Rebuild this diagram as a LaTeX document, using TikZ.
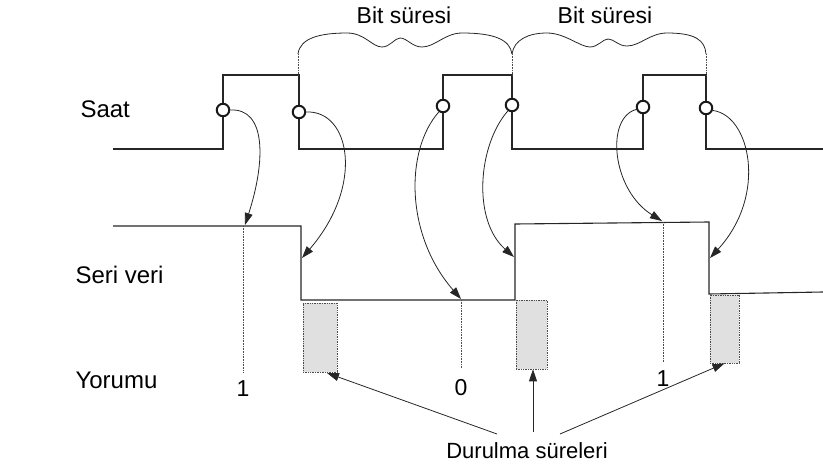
\documentclass[tikz,border=0pt]{standalone}
\usepackage{fontspec}
\setmainfont{Liberation Sans}
\usetikzlibrary{arrows.meta}
\begin{document}
\begin{tikzpicture}[x=1pt,y=-1pt,
  sig/.style={line width=1.1pt, black!85, line join=miter},
  arr/.style={line width=0.8pt, black!85, -{Triangle[length=12pt,width=8pt]}},
  ring/.style={circle, draw=black!90, line width=2pt, minimum size=12.5pt, inner sep=0pt, fill=white},
  lbl/.style={anchor=base west, font=\fontsize{24}{28}\selectfont},
  digit/.style={anchor=base, font=\fontsize{23}{27}\selectfont},
  toptxt/.style={anchor=base, font=\fontsize{23}{27}\selectfont},
  settle/.style={draw=black!70, densely dotted, line width=0.7pt, fill=black!12, inner sep=0pt},
  vguide/.style={densely dotted, line width=0.6pt, black!70},
  bracepath/.style={line width=0.8pt, black!85}
]
\useasboundingbox (0,0) rectangle (823,474);

% clock signal
\draw[sig] (113,149) -- (223,149) -- (223,75) -- (299,75) -- (299,149) -- (443,149) -- (443,75)
  -- (512,75) -- (512,149) -- (643,149) -- (643,75) -- (706,75) -- (706,149) -- (823,149);

% serial data
\draw[sig] (113,226) -- (301,226) -- (301,300) -- (515,300) -- (515,224) -- (709,222)
  -- (709,294) -- (823,292);

% braces
\draw[bracepath] (298,54) .. controls (300,38) and (320,33) .. (347,33)
  .. controls (365,33) and (372,47) .. (382,47)
  .. controls (390,47) and (395,38) .. (400,38)
  .. controls (407,38) and (412,47) .. (422,47)
  .. controls (435,47) and (445,33) .. (462,33)
  .. controls (495,33) and (510,40) .. (512,54);
\draw[bracepath] (512,54) .. controls (514,40) and (528,33) .. (547,33)
  .. controls (565,33) and (580,47) .. (590,47)
  .. controls (598,47) and (603,39) .. (608,39)
  .. controls (614,39) and (618,46) .. (627,46)
  .. controls (640,46) and (650,33) .. (667,33)
  .. controls (695,33) and (705,40) .. (706,54);
\draw[vguide] (298,54) -- (298,75);
\draw[vguide] (512,54) -- (512,75);
\draw[vguide] (706,54) -- (706,75);

\node[toptxt] (bs1) at (404,23) {Bit süresi};
\node[toptxt] (bs2) at (605,23) {Bit süresi};

% guides for sampling instants
\draw[vguide] (243,226) -- (243,372);
\draw[vguide] (461,300) -- (461,368);
\draw[vguide] (663,222) -- (663,362);

% settling boxes
\node[settle, minimum width=34pt, minimum height=69pt] (b1) at (320,337.5) {};
\node[settle, minimum width=31pt, minimum height=69pt] (b2) at (531.5,334.5) {};
\node[settle, minimum width=29pt, minimum height=68pt] (b3) at (724.5,329) {};

% labels
\node[lbl] (saat) at (77,117) {Saat};
\node[lbl] (seri) at (72,283) {Seri veri};
\node[lbl] (yor) at (72,388) {Yorumu};
\node[digit] (n1) at (243,396) {1};
\node[digit] (n2) at (461,395) {0};
\node[digit] (n3) at (663,386) {1};
\node[anchor=base, font=\fontsize{22}{26}\selectfont] (dur) at (527,458) {Durulma süreleri};

% edge markers
\node[ring] (c1) at (223,110) {};
\node[ring] (c2) at (299,112) {};
\node[ring] (c3) at (443,106) {};
\node[ring] (c4) at (512,105) {};
\node[ring] (c5) at (643,107) {};
\node[ring] (c6) at (706,108) {};

% arrow targets
\coordinate (t1) at (245,225);
\coordinate (t2) at (302,258);
\coordinate (t3) at (461,299);
\coordinate (t4) at (514,257);
\coordinate (t5) at (662,221);
\coordinate (t6) at (710,258);

\draw[arr] (c1.east) .. controls (266,108) and (266,160) .. (t1);
\draw[arr] (c2.east) .. controls (350,110) and (365,185) .. (t2);
\draw[arr] (c3.-125) .. controls (405,150) and (405,235) .. (t3);
\draw[arr] (c4.-125) .. controls (478,145) and (472,220) .. (t4);
\draw[arr] (c5.200) .. controls (605,118) and (612,190) .. (t5);
\draw[arr] (c6.-20) .. controls (750,115) and (768,195) .. (t6);

% settling-time arrows
\coordinate (d1) at (497,434);
\coordinate (d2) at (533,432);
\coordinate (d3) at (560,434);
\coordinate (e1) at (327,373);
\draw[arr] (d1) -- (e1);
\draw[arr] (d2) -- (b2.south -| d2);
\draw[arr] (d3) -- (b3.south);
\end{tikzpicture}
\end{document}
